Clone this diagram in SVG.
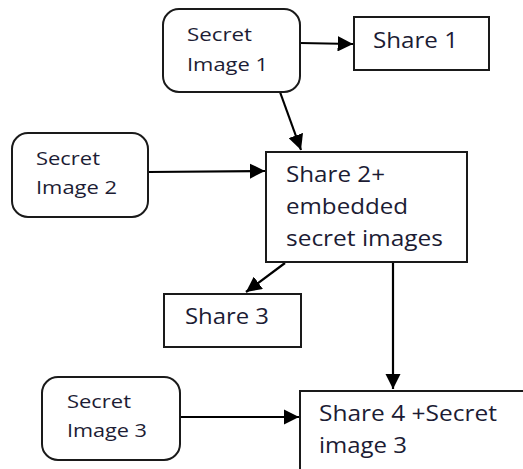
<svg xmlns="http://www.w3.org/2000/svg" width="523" height="469" viewBox="0 0 523 469">
<defs>
<style>
.box{fill:#fff;stroke:#1a1a1a;stroke-width:2}
.t{font-family:"Open Sans","Noto Sans",sans-serif;fill:#1c1c34}
.s{font-size:18px}
.l{font-size:21px}
.c{stroke:#000;stroke-width:2.2;fill:none}
</style>
<marker id="ah" viewBox="0 0 10 10" refX="10" refY="5" markerWidth="7" markerHeight="7" markerUnits="strokeWidth" orient="auto">
<path d="M0,0 L10,5 L0,10 z" fill="#000"/>
</marker>
</defs>
<rect width="523" height="469" fill="#fff"/>
<g id="connectors">
<path class="c" d="M300,43 L353,44" marker-end="url(#ah)"/>
<path class="c" d="M280,92 L301,150" marker-end="url(#ah)"/>
<path class="c" d="M148,172 L265,171" marker-end="url(#ah)"/>
<path class="c" d="M285,263 L246,292" marker-end="url(#ah)"/>
<path class="c" d="M393,262 L393,389" marker-end="url(#ah)"/>
<path class="c" d="M180,417 L299,417" marker-end="url(#ah)"/>
</g>
<g id="secret1">
<rect class="box" x="163" y="9" width="137" height="83" rx="16"/>
<text class="t s" x="187" y="41" textLength="65" lengthAdjust="spacingAndGlyphs">Secret</text>
<text class="t s" x="187" y="71" textLength="81" lengthAdjust="spacingAndGlyphs">Image 1</text>
</g>
<g id="share1">
<rect class="box" x="354" y="17" width="135" height="53"/>
<text class="t l" x="373" y="48" textLength="85" lengthAdjust="spacingAndGlyphs">Share 1</text>
</g>
<g id="secret2">
<rect class="box" x="12" y="133" width="136" height="84" rx="16"/>
<text class="t s" x="36" y="165" textLength="64" lengthAdjust="spacingAndGlyphs">Secret</text>
<text class="t s" x="36" y="194" textLength="81" lengthAdjust="spacingAndGlyphs">Image 2</text>
</g>
<g id="share2">
<rect class="box" x="266" y="152" width="201" height="110"/>
<text class="t l" x="286" y="182" textLength="99" lengthAdjust="spacingAndGlyphs">Share 2+</text>
<text class="t l" x="286" y="214" textLength="122" lengthAdjust="spacingAndGlyphs">embedded</text>
<text class="t l" x="286" y="246" textLength="157" lengthAdjust="spacingAndGlyphs">secret images</text>
</g>
<g id="share3">
<rect class="box" x="164" y="294" width="137" height="53"/>
<text class="t l" x="185" y="324" textLength="84" lengthAdjust="spacingAndGlyphs">Share 3</text>
</g>
<g id="secret3">
<rect class="box" x="42" y="377" width="138" height="83" rx="16"/>
<text class="t s" x="67" y="408" textLength="64" lengthAdjust="spacingAndGlyphs">Secret</text>
<text class="t s" x="67" y="437" textLength="80" lengthAdjust="spacingAndGlyphs">Image 3</text>
</g>
<g id="share4">
<rect class="box" x="300" y="391" width="240" height="100"/>
<text class="t l" x="319" y="421" textLength="178" lengthAdjust="spacingAndGlyphs">Share 4 +Secret</text>
<text class="t l" x="319" y="453" textLength="88" lengthAdjust="spacingAndGlyphs">image 3</text>
</g>
</svg>
